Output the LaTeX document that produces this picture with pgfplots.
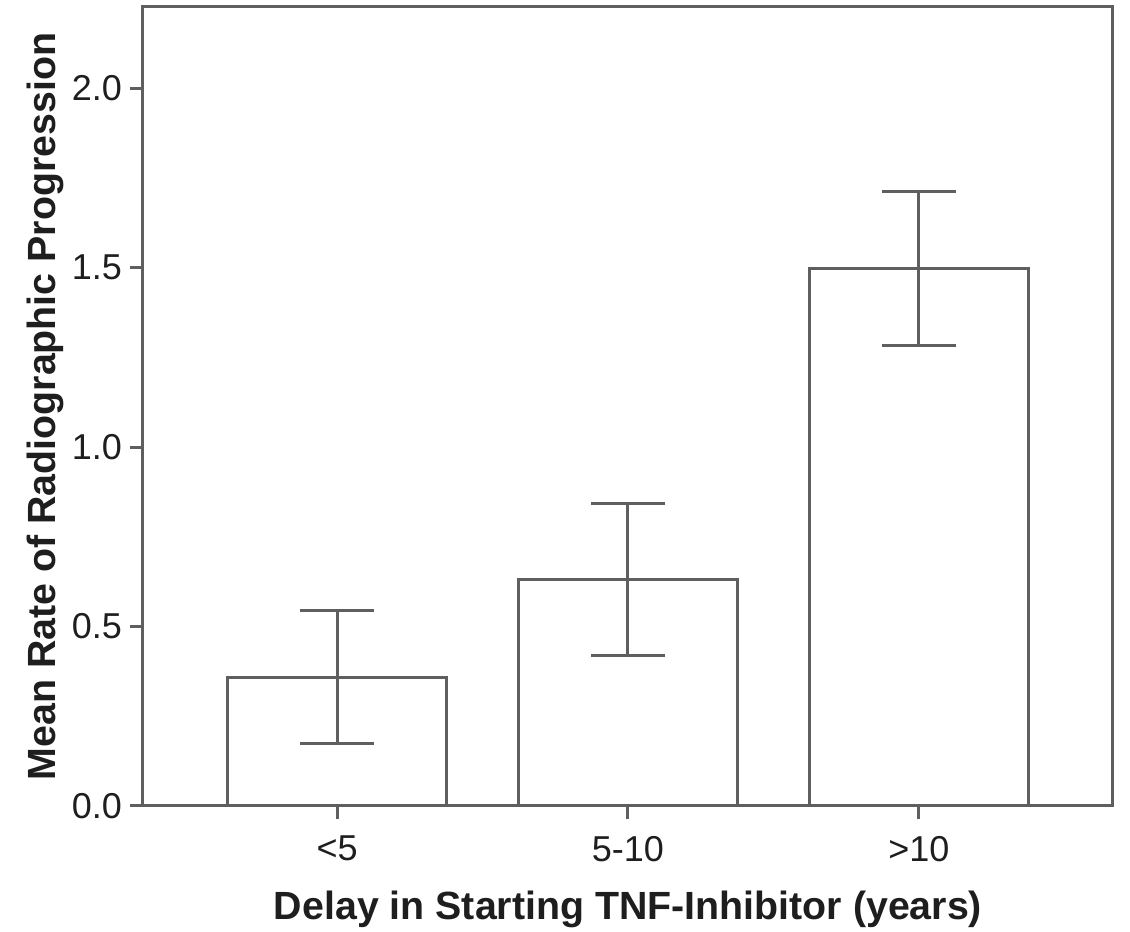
\documentclass[border=0pt]{standalone}
\usepackage{pgfplots}
\pgfplotsset{compat=1.18}
\usepackage{fontspec}
\setmainfont{Liberation Sans}
\definecolor{ln}{RGB}{95,95,95}
\definecolor{tx}{RGB}{30,30,30}

\begin{document}
\begin{tikzpicture}
\begin{axis}[
  scale only axis, width=291pt, height=239.7pt,
  xmin=-0.667, xmax=2.667, ymin=0, ymax=2.226,
  xtick={0,1,2}, xticklabels={{<5},{5-10},{>10}},
  ytick={0,0.5,1,1.5,2},
  /pgf/number format/assume math mode=true,
  tick align=outside, major tick length=4pt,
  xtick pos=bottom, ytick pos=left,
  axis line style={ln, line width=0.9pt},
  every tick/.style={ln, line width=0.9pt},
  tick label style={font=\fontsize{10.8}{12}\selectfont, text=tx},
  xticklabel style={yshift=-1.5pt},
  yticklabel style={xshift=1.2pt, /pgf/number format/.cd, fixed, fixed zerofill, precision=1},
  label style={font=\bfseries\fontsize{11.8}{14}\selectfont, text=tx},
  xlabel={Delay in Starting TNF-Inhibitor (years)},
  ylabel={Mean Rate of Radiographic Progression},
  xlabel style={at={(axis description cs:0.5,-0.130)}, anchor=center},
  ylabel style={at={(axis description cs:-0.101,0.5)}, anchor=center},
]
\addplot[ybar, bar width=65.7pt, fill=white, draw=ln, line width=0.9pt,
  error bars/.cd, y dir=both, y explicit,
  error bar style={ln, line width=0.9pt},
  error mark options={ln, line width=0.9pt, mark size=11pt, rotate=90}]
  coordinates {(0,0.359)+-(0,0.186) (1,0.632)+-(0,0.212) (2,1.498)+-(0,0.215)};
\end{axis}
\pgfresetboundingbox
\path ([xshift=-42.9pt,yshift=-37.8pt]current axis.south west) rectangle ([xshift=5.1pt,yshift=2.1pt]current axis.north east);
\end{tikzpicture}
\end{document}
